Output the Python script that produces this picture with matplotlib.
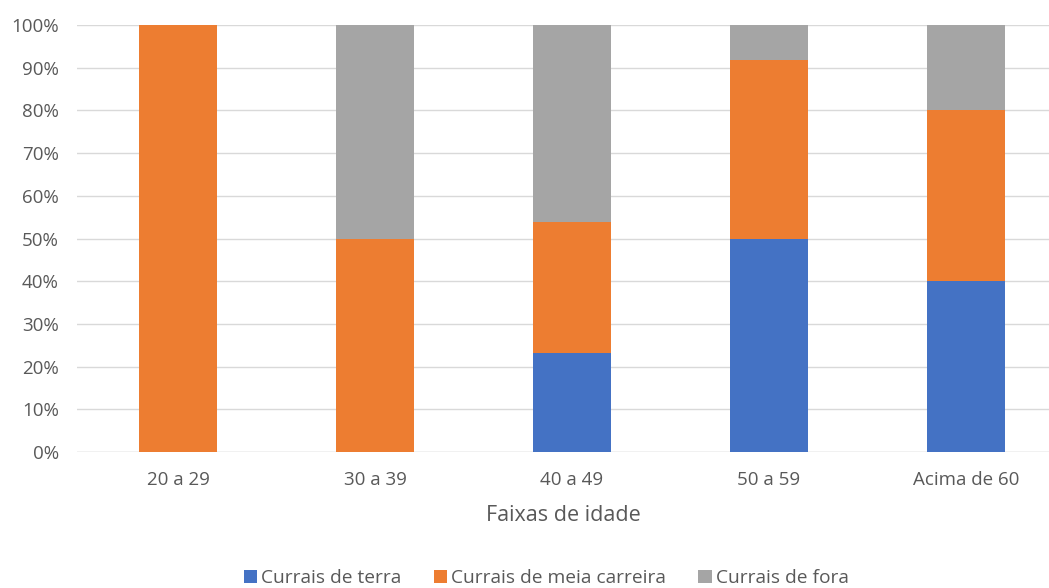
import matplotlib
matplotlib.use("Agg")
import matplotlib.pyplot as plt
import numpy as np
from matplotlib.ticker import PercentFormatter

categories = ["20 a 29", "30 a 39", "40 a 49", "50 a 59", "Acima de 60"]
terra = [0.0, 0.0, 0.231, 0.50, 0.40]
meia = [1.0, 0.50, 0.308, 0.417, 0.40]
fora = [0.0, 0.50, 0.461, 0.083, 0.20]
series_names = ["Currais de terra", "Currais de meia carreira", "Currais de fora"]
colors = ["#4472C4", "#ED7D31", "#A5A5A5"]

plt.rcParams['font.family'] = ['Open Sans', 'DejaVu Sans']

fig = plt.figure(figsize=(10.49, 5.88), dpi=100)
ax = fig.add_axes([77/1049, 1-452/588, 1-77/1049, (452-25)/588])

x = np.arange(len(categories))
w = 0.396
bottom = np.zeros(len(categories))
for vals, name, c in zip([terra, meia, fora], series_names, colors):
    ax.bar(x, vals, w, bottom=bottom, color=c, label=name, zorder=3)
    bottom += np.array(vals)

ax.set_xlim(-0.513, 4.421)
ax.set_ylim(0, 1.0)
ax.set_yticks(np.arange(0, 1.01, 0.1))
ax.yaxis.set_major_formatter(PercentFormatter(1.0, decimals=0))
ax.set_xticks(x)
ax.set_xticklabels(categories)
ax.grid(axis='y', color='#D9D9D9', linewidth=1, zorder=0)
for s in ax.spines.values():
    s.set_visible(False)
ax.axhline(0, color='#D9D9D9', linewidth=1, zorder=2)
ax.tick_params(axis='both', length=0, labelsize=13.5, labelcolor='#595959')
ax.tick_params(axis='x', pad=14)
ax.tick_params(axis='y', pad=13)
ax.set_xlabel("Faixas de idade", fontsize=15.5, color='#595959', labelpad=11.5)

handles, labels = ax.get_legend_handles_labels()
fig.legend(handles, labels, loc='center', bbox_to_anchor=(546/1049, 1-578/588),
           ncol=3, frameon=False, fontsize=13.8, labelcolor='#595959',
           handlelength=0.7, handleheight=0.7, handletextpad=0.2, columnspacing=1.7)

fig.savefig("out.png", dpi=100)
